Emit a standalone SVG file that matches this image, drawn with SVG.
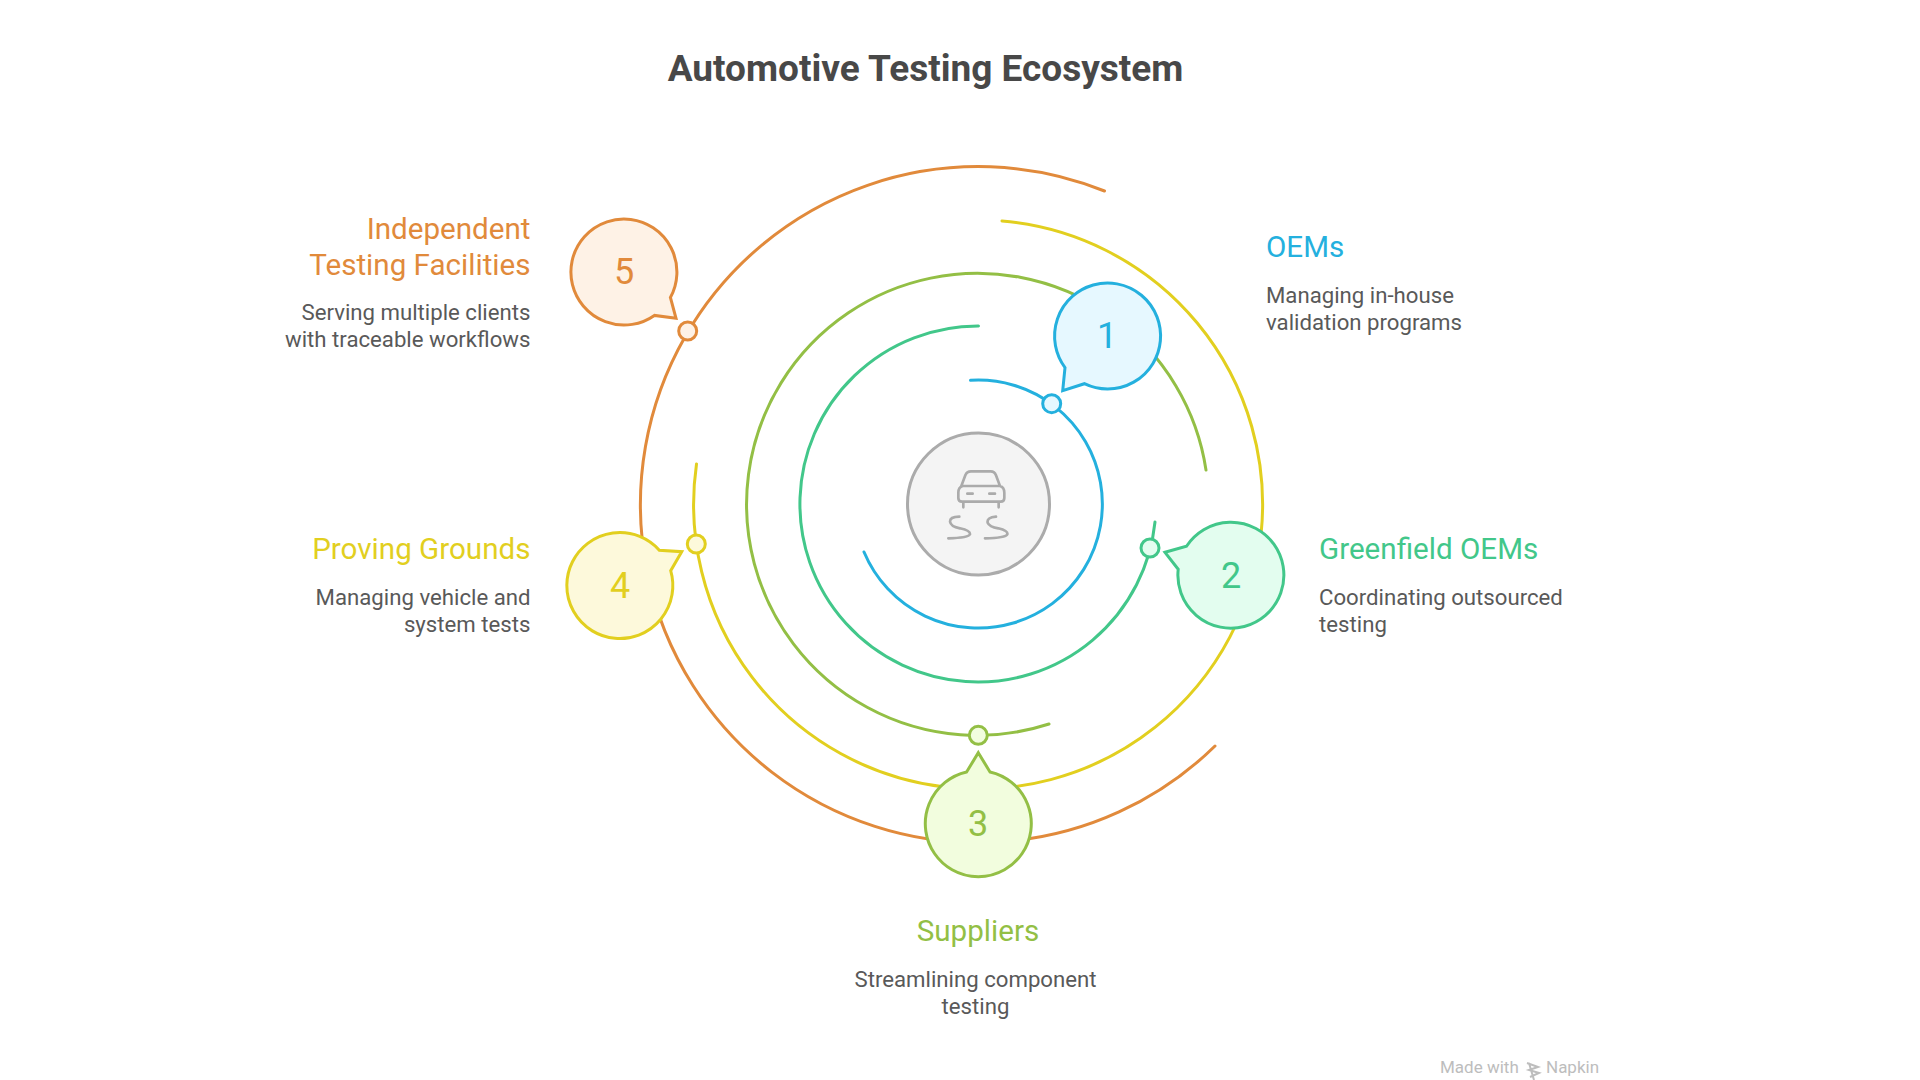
<svg xmlns="http://www.w3.org/2000/svg" width="1920" height="1080" viewBox="0 0 1920 1080">
<style>
text{font-family:Roboto,"Liberation Sans",sans-serif}
.title{font-size:37px;font-weight:700;fill:#484848}
.h{font-size:29.6px;font-weight:400}
.b{font-size:22.2px;fill:#595959}
.n{font-size:36px;text-anchor:middle}
.arc,.car{fill:none;stroke-width:3;stroke-linecap:round;stroke-linejoin:round}
.shape{stroke-width:3;stroke-linejoin:miter}
.e{text-anchor:end}.m{text-anchor:middle}
.blue{stroke:#24B0DE}.teal{stroke:#42C78A}.lime{stroke:#93BF45}.yellow{stroke:#E2CF1F}.orange{stroke:#E18A3B}
.fblue{fill:#E6F8FF}.fteal{fill:#E3FDEF}.flime{fill:#F2FDDE}.fyellow{fill:#FDF9DB}.forange{fill:#FEF2E6}
.tblue{fill:#24B0DE}.tteal{fill:#42C78A}.tlime{fill:#93BF45}.tyellow{fill:#E2CF1F}.torange{fill:#E18A3B}
</style>
<rect width="1920" height="1080" fill="#ffffff"/>
<text class="title m" x="925.5" y="80.5">Automotive Testing Ecosystem</text>
<g id="connectors">
<path class="arc orange" d="M1104.5 191 A338 338 0 1 0 1215 746"/>
<path class="arc yellow" d="M1002 221 A284.5 284.5 0 1 1 696.5 464"/>
<path class="arc lime" d="M1049 724 A231 231 0 1 1 1206 470"/>
<path class="arc teal" d="M978.5 326 A178 178 0 1 0 1155 522"/>
<path class="arc blue" d="M970.5 380.3 A124 124 0 1 1 864 552"/>
</g>
<g id="center">
<circle cx="978.5" cy="504" r="71" fill="#F4F4F4" stroke="#ABABAB" stroke-width="3"/>
<g transform="translate(860 400) scale(.3333)">
<path class="car" stroke="#ABABAB" style="stroke-width:8" d="M304 258L316 226Q320 214 333 214L392 214Q404 214 408 226L420 258M308 258L420 258Q433 262 433 278L433 294Q433 305 422 305L306 305Q295 305 295 294L295 278Q295 262 308 258ZM310 305L310 322M416 305L416 322M322 281L338 281M388 281L405 281M298 350Q270 350 270 365Q272 380 300 385Q332 392 330 403Q325 414 265 415M408 350Q380 352 383 368Q388 380 415 385Q445 392 442 403Q436 414 375 415"/>
</g>
</g>
<g id="node-1">
<circle class="blue fblue shape" cx="1051.7" cy="403.7" r="9"/>
<path class="blue fblue shape" d="M1062.7 390.7L1065 367.6A53 53 0 1 1 1084.4 383.7Z"/>
<text class="n tblue" x="1107" y="348">1</text>
<text class="h tblue" x="1266" y="257">OEMs</text>
<text class="b" x="1266" y="303">Managing in-house</text>
<text class="b" x="1266" y="330">validation programs</text>
</g>
<g id="node-2">
<circle class="teal fteal shape" cx="1150" cy="548" r="9"/>
<path class="teal fteal shape" d="M1165 552.3L1186.5 546.2A53 53 0 1 1 1178.2 569.3Z"/>
<text class="n tteal" x="1231" y="587.5">2</text>
<text class="h tteal" x="1319" y="559">Greenfield OEMs</text>
<text class="b" x="1319" y="605">Coordinating outsourced</text>
<text class="b" x="1319" y="632">testing</text>
</g>
<g id="node-3">
<circle class="lime flime shape" cx="978.3" cy="735.3" r="9"/>
<path class="lime flime shape" d="M978.3 752.7L990 772A53 53 0 1 1 966.6 772Z"/>
<text class="n tlime" x="978" y="836">3</text>
<text class="h tlime m" x="978" y="941">Suppliers</text>
<text class="b m" x="975.5" y="987">Streamlining component</text>
<text class="b m" x="975.5" y="1014">testing</text>
</g>
<g id="node-4">
<circle class="yellow fyellow shape" cx="696.3" cy="544" r="9"/>
<path class="yellow fyellow shape" d="M681.7 551.7L670.7 570.7A53 53 0 1 1 659.3 550.2Z"/>
<text class="n tyellow" x="620" y="598">4</text>
<text class="h tyellow e" x="530.5" y="559">Proving Grounds</text>
<text class="b e" x="530.5" y="605">Managing vehicle and</text>
<text class="b e" x="530.5" y="632">system tests</text>
</g>
<g id="node-5">
<circle class="orange forange shape" cx="687.7" cy="331" r="9"/>
<path class="orange forange shape" d="M676 318.3L654.4 315.4A53 53 0 1 1 670.4 297.5Z"/>
<text class="n torange" x="624" y="283.5">5</text>
<text class="h torange e" x="530.5" y="239">Independent</text>
<text class="h torange e" x="530.5" y="274.5">Testing Facilities</text>
<text class="b e" x="530.5" y="320">Serving multiple clients</text>
<text class="b e" x="530.5" y="347">with traceable workflows</text>
</g>
<g id="watermark">
<text x="1440" y="1073" font-size="17" fill="#BDBDBD">Made with</text>
<path d="M1527 1063L1538 1067L1529 1070L1539 1073L1530 1077M1529 1063L1534 1080" fill="none" stroke="#BDBDBD" stroke-width="2"/>
<text x="1546" y="1073" font-size="17" fill="#BDBDBD">Napkin</text>
</g>
</svg>
